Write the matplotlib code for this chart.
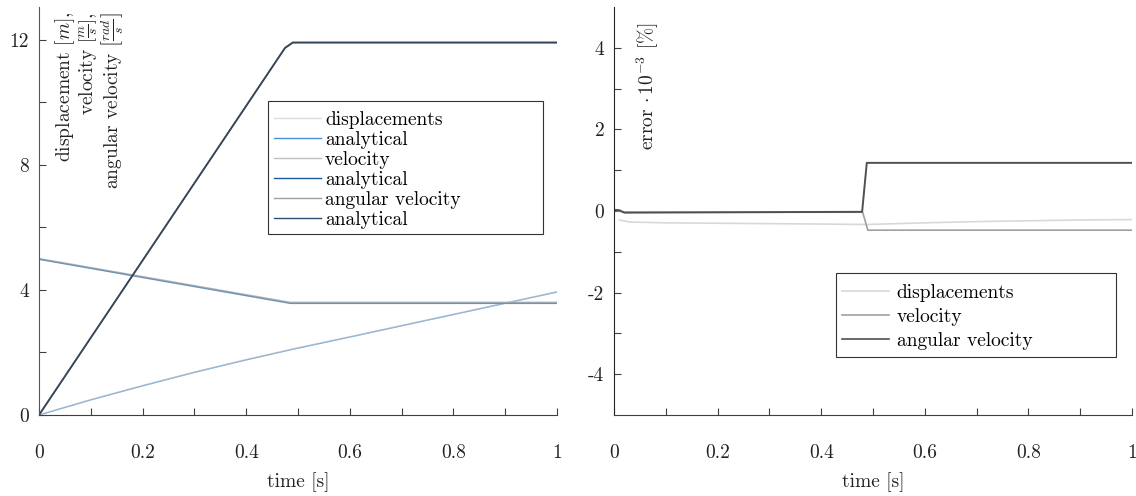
import numpy as np
import matplotlib
matplotlib.use("Agg")
import matplotlib.pyplot as plt
from matplotlib.patches import Rectangle
from matplotlib.lines import Line2D

plt.rcParams['font.family'] = 'cmr10'
plt.rcParams['mathtext.fontset'] = 'cm'
plt.rcParams['axes.unicode_minus'] = False
plt.rcParams['axes.formatter.use_mathtext'] = True
plt.rcParams['font.size'] = 14

# left plot: numerical vs analytical
t_disp = [0, 0.1, 0.2, 0.3, 0.4, 0.49, 0.6, 0.7, 0.8, 0.9, 1.0]
disp_num = [0, 0.49, 0.94, 1.37, 1.77, 2.11, 2.50, 2.86, 3.22, 3.58, 3.94]
disp_ana = [0, 0.48, 0.93, 1.36, 1.76, 2.10, 2.49, 2.85, 3.21, 3.57, 3.93]

t_vel = [0, 0.485, 1.0]
vel_num = [5.0, 3.6, 3.6]
vel_ana = [4.98, 3.57, 3.57]

t_ang = [0, 0.475, 0.49, 1.0]
ang_num = [0, 11.75, 11.92, 11.92]
ang_ana = [0, 11.74, 11.91, 11.91]

# right plot: errors
t_err_disp = [0.01, 0.03, 0.1, 0.2, 0.3, 0.4, 0.48, 0.49, 0.6, 0.7, 0.8, 0.9, 1.0]
err_disp = [-0.22, -0.27, -0.29, -0.30, -0.31, -0.32, -0.33, -0.33, -0.29, -0.26, -0.24, -0.22, -0.21]
t_err_vel = [0, 0.01, 0.02, 0.48, 0.49, 1.0]
err_vel = [0.02, 0.0, -0.03, -0.03, -0.47, -0.47]
t_err_ang = [0, 0.01, 0.02, 0.479, 0.488, 1.0]
err_ang = [0.03, 0.02, -0.04, -0.02, 1.18, 1.18]

left_labels = ["displacements", "analytical", "velocity", "analytical",
               "angular velocity", "analytical"]
left_colors = ["#dcdcdc", "#4a90d9", "#c0c0c0", "#1a5a9a", "#a0a0a0", "#2c4e72"]
right_labels = ["displacements", "velocity", "angular velocity"]
right_colors = ["#d8d8d8", "#a0a0a0", "#505050"]

xticks = np.round(np.arange(0, 1.01, 0.1), 1)
xticklabels = ["0", "", "0.2", "", "0.4", "", "0.6", "", "0.8", "", "1"]
left_yticks = [0, 2, 4, 6, 8, 10, 12]
left_yticklabels = ["0", "", "4", "", "8", "", "12"]
right_yticks = [-4, -3, -2, -1, 0, 1, 2, 3, 4]
right_yticklabels = ["-4", "", "-2", "", "0", "", "2", "", "4"]

W, H = 1136, 496
fig = plt.figure(figsize=(W / 100, H / 100), dpi=100)

def px(x0, y0, x1, y1):
    return [x0 / W, 1 - y1 / H, (x1 - x0) / W, (y1 - y0) / H]

ax1 = fig.add_axes(px(39, 7, 557, 415))
ax2 = fig.add_axes(px(614, 7, 1132, 415))

# numerical lines first, analytical drawn over them
ax1.plot(t_disp, disp_num, color="#c8c8c8", lw=1.1)
ax1.plot(t_disp, disp_ana, color="#8fb6dc", lw=0.8)
ax1.plot(t_vel, vel_num, color="#b4b4b4", lw=1.2)
ax1.plot(t_vel, vel_ana, color="#6f93b4", lw=1.0)
ax1.plot(t_ang, ang_num, color="#8a8a8a", lw=1.1)
ax1.plot(t_ang, ang_ana, color="#34465a", lw=1.3)

ax2.plot(t_err_disp, err_disp, color=right_colors[0], lw=1.2)
ax2.plot(t_err_vel, err_vel, color=right_colors[1], lw=1.2)
ax2.plot(t_err_ang, err_ang, color=right_colors[2], lw=1.4)

for ax, yt, ytl, ylim in [(ax1, left_yticks, left_yticklabels, (0, 13.05)),
                          (ax2, right_yticks, right_yticklabels, (-5, 5))]:
    ax.set_xlim(0, 1)
    ax.set_ylim(*ylim)
    ax.set_xticks(xticks)
    ax.set_xticklabels(xticklabels)
    ax.set_yticks(yt)
    ax.set_yticklabels(ytl)
    ax.spines['top'].set_visible(False)
    ax.spines['right'].set_visible(False)
    ax.spines['left'].set_color('#262626')
    ax.spines['bottom'].set_color('#404040')
    ax.tick_params(axis='x', direction='in', length=5, pad=21, colors='#404040',
                   labelcolor='#222222')
    ax.tick_params(axis='y', direction='in', length=5, pad=7, colors='#404040',
                   labelcolor='#222222')
    ax.set_xlabel("time [s]", labelpad=7, color='#222222')

ax1.spines['left'].set_color('#555555')

fig.text(90 / W, 1 - 12 / H,
         "displacement $[m]$,\nvelocity $\\left[\\frac{m}{s}\\right]$,\nangular velocity $\\left[\\frac{rad}{s}\\right]$",
         rotation=90, ha='center', va='top', multialignment='right',
         linespacing=1.0, color='#222222')
fig.text(648 / W, 1 - 22 / H, "error $\\cdot\\,10^{-3}$ [%]",
         rotation=90, ha='center', va='top', color='#222222')

# legends
h1 = [Line2D([], [], color=c, lw=1.0) for c in left_colors]
leg1 = ax1.legend(h1, left_labels, loc='upper left', bbox_to_anchor=(274 / W, 1 - 111 / H),
                  bbox_transform=fig.transFigure, frameon=False, borderpad=0,
                  borderaxespad=0, handlelength=2.42, handletextpad=0.2,
                  labelspacing=0.1)
fig.add_artist(Rectangle((268 / W, 1 - 234 / H), 275 / W, 133 / H, transform=fig.transFigure,
                         fill=False, ec='#333333', lw=0.8))

h2 = [Line2D([], [], color=c, lw=1.2) for c in right_colors]
leg2 = ax2.legend(h2, right_labels, loc='upper left', bbox_to_anchor=(842 / W, 1 - 284 / H),
                  bbox_transform=fig.transFigure, frameon=False, borderpad=0,
                  borderaxespad=0, handlelength=2.42, handletextpad=0.4,
                  labelspacing=0.3)
fig.add_artist(Rectangle((836 / W, 1 - 357 / H), 280 / W, 84 / H, transform=fig.transFigure,
                         fill=False, ec='#333333', lw=0.8))

fig.savefig("out.png", dpi=100)
